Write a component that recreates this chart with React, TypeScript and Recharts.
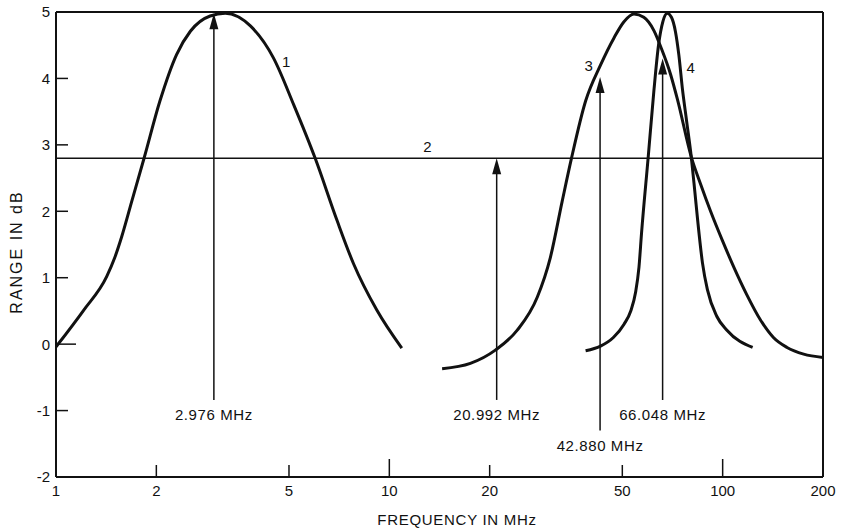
import { ComposedChart, Line, XAxis, YAxis, ReferenceLine, ReferenceDot, Label } from "recharts"

// curve 1: low band
const curve1Freq = [1, 1.21, 1.42, 1.5, 1.575, 1.69, 1.84, 2.05, 2.3, 2.53, 2.9, 3.22, 3.83, 4.49, 5.16, 6.0, 6.97, 7.81, 9.18, 10.9]
const curve1Range = [-0.04, 0.51, 1.02, 1.3, 1.62, 2.16, 2.81, 3.66, 4.36, 4.71, 4.94, 4.98, 4.79, 4.31, 3.61, 2.79, 1.86, 1.21, 0.51, -0.06]

// curve 3: broad high band
const curve3Freq = [14.4, 17.5, 20.8, 24.2, 27.8, 30.4, 33, 35.2, 38.8, 43, 47.2, 50.5, 54.2, 58, 62.2, 65.5, 69.8, 73.3, 80.5, 86, 92, 100, 108, 118, 130, 142, 156, 175, 200]
const curve3Range = [-0.37, -0.29, -0.09, 0.21, 0.71, 1.3, 2.15, 2.8, 3.66, 4.2, 4.61, 4.85, 4.97, 4.92, 4.72, 4.45, 4.06, 3.67, 2.82, 2.4, 2.0, 1.55, 1.16, 0.75, 0.36, 0.1, -0.05, -0.15, -0.2]

// curve 4: narrow peak
const curve4Freq = [38.8, 43, 47, 50.6, 53, 54.8, 56.1, 57.1, 59.8, 62.2, 64.2, 66.2, 68.2, 70.2, 72.2, 73.9, 75.7, 78, 80.5, 82.5, 84.2, 87, 90, 96, 103, 123]
const curve4Range = [-0.1, -0.03, 0.1, 0.3, 0.5, 0.78, 1.16, 1.67, 2.82, 3.82, 4.5, 4.86, 4.98, 4.92, 4.7, 4.35, 3.85, 3.35, 2.82, 2.3, 1.85, 1.22, 0.82, 0.42, 0.21, -0.05]

// curve 2: flat level
const levelRange = 2.8

const xTicks = [1, 2, 5, 10, 20, 50, 100, 200]
const yTicks = [-2, -1, 0, 1, 2, 3, 4, 5]

const arrowFreq = [2.976, 20.992, 42.88, 66.048]
const arrowTip = [4.98, 2.8, 4.02, 4.3]
const arrowBase = [-0.84, -0.84, -1.3, -0.84]
const arrowText = ["2.976 MHz", "20.992 MHz", "42.880 MHz", "66.048 MHz"]

const tagText = ["1", "2", "3", "4"]
const tagFreq = [4.9, 13, 39.6, 80.2]
const tagRange = [4.25, 2.97, 4.2, 4.17]

const ink = "#111"
const font = "'Liberation Sans', Arial, sans-serif"

const toPoints = (f: number[], v: number[]) => f.map((x, i) => ({ f: x, v: v[i] }))

const XTick = (props: any) => {
  const { x, y, payload } = props
  const val = payload.value
  const len = val === 1 || val === 200 ? 0 : val === 10 || val === 100 ? 18 : 12
  const axisY = y - 8
  return (
    <g>
      {len > 0 && <line x1={x} x2={x} y1={axisY} y2={axisY - len} stroke={ink} strokeWidth={1.5} />}
      <text x={x} y={y} dy="0.71em" textAnchor="middle" fontSize={15} fontFamily={font} fill={ink}>
        {val}
      </text>
    </g>
  )
}

const YTick = (props: any) => {
  const { x, y, payload } = props
  const val = payload.value
  const len = val === 5 || val === -2 ? 0 : val === 0 ? 20 : 12
  const axisX = x + 6
  return (
    <g>
      {len > 0 && <line x1={axisX} x2={axisX + len} y1={y} y2={y} stroke={ink} strokeWidth={1.5} />}
      <text x={x} y={y} dy="0.36em" textAnchor="end" fontSize={15} fontFamily={font} fill={ink}>
        {val}
      </text>
    </g>
  )
}

const arrowShape = (text: string) => (props: any) => {
  const { x1, y1, y2 } = props
  const tip = Math.min(y1, y2)
  const base = Math.max(y1, y2)
  return (
    <g>
      <line x1={x1} x2={x1} y1={base} y2={tip + 10} stroke={ink} strokeWidth={1.5} />
      <polygon points={`${x1},${tip} ${x1 - 4.5},${tip + 16} ${x1 + 4.5},${tip + 16}`} fill={ink} />
      <text x={x1} y={base + 15} dy="0.36em" textAnchor="middle" fontSize={15} letterSpacing={0.6} fontFamily={font} fill={ink}>
        {text}
      </text>
    </g>
  )
}

export default function App() {
  return (
    <div style={{ position: "absolute", left: 0, top: 0, width: 841, height: 529, background: "#fff" }}>
      <ComposedChart width={841} height={529} margin={{ top: 12, right: 18, bottom: 0, left: 0 }}>
        <XAxis
          dataKey="f"
          type="number"
          scale="log"
          domain={[1, 200]}
          ticks={xTicks}
          allowDataOverflow
          height={52}
          tickSize={0}
          tickMargin={8}
          tick={<XTick />}
          axisLine={{ stroke: ink, strokeWidth: 2 }}
        >
          <Label
            content={() => (
              <text x={457} y={520} dy="0.36em" textAnchor="middle" fontSize={15} letterSpacing={0.7} fontFamily={font} fill={ink}>
                FREQUENCY IN MHz
              </text>
            )}
          />
        </XAxis>
        <YAxis
          type="number"
          domain={[-2, 5]}
          ticks={yTicks}
          allowDataOverflow
          width={56}
          tickSize={0}
          tickMargin={6}
          tick={<YTick />}
          axisLine={{ stroke: ink, strokeWidth: 2 }}
        >
          <Label
            content={() => (
              <text
                x={16}
                y={252}
                dy="0.36em"
                textAnchor="middle"
                transform="rotate(-90 16 252)"
                fontSize={16}
                letterSpacing={2}
                fontFamily={font}
                fill={ink}
              >
                RANGE IN dB
              </text>
            )}
          />
        </YAxis>

        <ReferenceLine y={5} stroke={ink} strokeWidth={2} />
        <ReferenceLine x={200} stroke={ink} strokeWidth={2} />
        <ReferenceLine y={levelRange} stroke={ink} strokeWidth={1.5} />

        {arrowFreq.map((f, i) => (
          <ReferenceLine
            key={arrowText[i]}
            segment={[
              { x: f, y: arrowBase[i] },
              { x: f, y: arrowTip[i] },
            ]}
            shape={arrowShape(arrowText[i])}
          />
        ))}

        {tagText.map((t, i) => (
          <ReferenceDot
            key={t}
            x={tagFreq[i]}
            y={tagRange[i]}
            r={0}
            shape={(p: any) => (
              <text x={p.cx} y={p.cy} dy="0.36em" textAnchor="middle" fontSize={15} fontFamily={font} fill={ink}>
                {t}
              </text>
            )}
          />
        ))}

        <Line data={toPoints(curve1Freq, curve1Range)} dataKey="v" type="monotone" stroke={ink} strokeWidth={3} dot={false} isAnimationActive={false} />
        <Line data={toPoints(curve3Freq, curve3Range)} dataKey="v" type="monotone" stroke={ink} strokeWidth={3} dot={false} isAnimationActive={false} />
        <Line data={toPoints(curve4Freq, curve4Range)} dataKey="v" type="monotone" stroke={ink} strokeWidth={3} dot={false} isAnimationActive={false} />
      </ComposedChart>
    </div>
  )
}
